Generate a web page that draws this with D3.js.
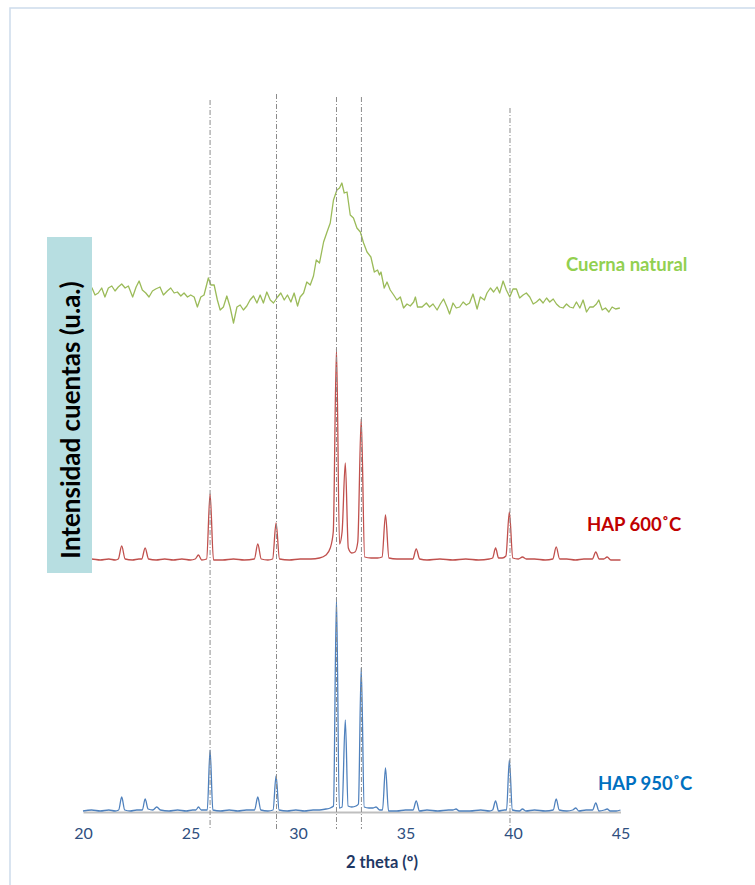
<!DOCTYPE html>
<html>
<head>
<meta charset="utf-8">
<script src="https://cdn.jsdelivr.net/npm/d3@7"></script>
<style>
  html, body { margin: 0; padding: 0; background: #fff; }
  #graph { width: 755px; height: 885px; }
  text { font-family: Lato, "Open Sans", sans-serif; }
</style>
</head>
<body>
<div id="graph"></div>
<script>
'use strict';

// 2 theta (deg), intensity (a.u.)
var hap950 = [[20.0,1],[20.4,2],[20.8,1],[21.2,2],[21.5,1],[21.66,2],[21.8,15],[21.94,2],[22.2,1],[22.5,2],[22.76,2],[22.89,13],[23.03,3],[23.25,2],[23.43,5],[23.6,2],[24.0,1],[24.4,2],[24.8,1],[25.1,2],[25.25,2],[25.37,5],[25.5,2],[25.78,2],[25.91,62],[26.04,2],[26.4,1],[26.8,2],[27.2,1],[27.6,2],[27.98,2],[28.13,15],[28.27,2],[28.6,1],[28.84,2],[28.98,36],[29.12,2],[29.5,1],[29.9,2],[30.3,1],[30.7,2],[31.0,2],[31.3,3],[31.5,4],[31.65,6],[31.79,214],[31.92,4],[32.05,5],[32.2,92],[32.33,6],[32.5,5],[32.7,6],[32.81,8],[32.94,144],[33.08,5],[33.3,4],[33.48,4],[33.63,5],[33.8,2],[33.93,2],[34.07,44],[34.21,1],[34.6,1],[35.0,2],[35.35,2],[35.5,11],[35.65,1],[36.0,2],[36.5,1],[37.0,2],[37.2,2],[37.35,3],[37.5,1],[38.0,1],[38.5,2],[38.9,1],[39.05,2],[39.19,11],[39.33,1],[39.6,2],[39.7,2],[39.83,52],[39.97,2],[40.3,1],[40.44,3],[40.6,1],[41.0,2],[41.5,1],[41.87,2],[42.01,13],[42.15,2],[42.5,1],[42.78,2],[42.92,4],[43.06,1],[43.4,2],[43.7,2],[43.85,9],[44.0,1],[44.25,2],[44.38,3],[44.52,1],[44.8,1],[45.0,2]];

var hap600 = [[20.0,2],[20.4,3],[20.8,2],[21.2,3],[21.5,2],[21.64,3],[21.8,16],[21.96,3],[22.3,2],[22.6,3],[22.73,3],[22.89,14],[23.05,3],[23.4,2],[23.8,3],[24.2,2],[24.6,3],[25.0,2],[25.22,3],[25.37,7],[25.52,2],[25.75,3],[25.91,68],[26.07,2],[26.5,2],[27.0,3],[27.5,2],[27.97,3],[28.13,18],[28.29,3],[28.6,2],[28.82,3],[28.98,39],[29.14,3],[29.6,2],[30.1,3],[30.6,3],[31.0,4],[31.3,7],[31.5,14],[31.64,30],[31.79,213],[31.93,18],[32.05,30],[32.2,99],[32.34,14],[32.5,9],[32.65,10],[32.78,20],[32.94,143],[33.1,5],[33.4,4],[33.7,4],[33.91,5],[34.07,47],[34.23,4],[34.6,3],[35.0,3],[35.34,3],[35.5,13],[35.66,3],[36.0,2],[36.6,3],[37.2,2],[37.8,3],[38.4,2],[38.9,3],[39.05,4],[39.19,14],[39.33,4],[39.5,4],[39.67,6],[39.83,50],[39.99,4],[40.25,3],[40.44,5],[40.62,3],[41.0,3],[41.5,2],[41.85,3],[42.01,15],[42.17,3],[42.5,3],[42.9,2],[43.3,3],[43.69,3],[43.85,10],[44.01,3],[44.22,3],[44.38,5],[44.55,2],[45.0,2]];

var cuerna = [[20.0,38],[20.2,30],[20.42,34],[20.56,27],[20.71,29],[20.87,34],[21.02,25],[21.18,34],[21.34,36],[21.49,31],[21.64,35],[21.80,38],[21.96,34],[22.11,36],[22.31,25],[22.47,35],[22.61,41],[22.76,32],[22.92,29],[23.07,25],[23.23,31],[23.38,33],[23.58,35],[23.74,27],[23.92,31],[24.08,34],[24.24,29],[24.39,30],[24.55,26],[24.70,29],[24.86,25],[25.01,27],[25.17,25],[25.32,15],[25.48,25],[25.63,27],[25.83,44],[25.95,37],[26.10,37],[26.25,22],[26.38,12],[26.53,15],[26.69,26],[26.84,15],[27.00,-1],[27.16,15],[27.31,17],[27.46,12],[27.62,16],[27.77,22],[27.93,26],[28.09,19],[28.24,27],[28.39,19],[28.55,30],[28.71,22],[28.86,19],[29.05,25],[29.20,29],[29.36,22],[29.51,27],[29.67,20],[29.82,29],[29.98,16],[30.10,25],[30.26,29],[30.41,40],[30.57,37],[30.72,46],[30.85,62],[31.00,59],[31.19,80],[31.35,90],[31.50,99],[31.65,122],[31.81,132],[31.93,134],[32.04,139],[32.15,129],[32.28,130],[32.43,107],[32.58,104],[32.74,94],[32.90,90],[33.05,79],[33.21,70],[33.39,65],[33.55,50],[33.70,52],[33.79,47],[33.86,50],[34.01,34],[34.14,40],[34.29,32],[34.45,27],[34.60,22],[34.76,25],[34.91,14],[35.07,18],[35.22,16],[35.38,20],[35.46,25],[35.56,15],[35.77,15],[35.97,19],[36.12,15],[36.28,18],[36.47,12],[36.62,18],[36.77,23],[36.93,15],[37.05,8],[37.21,19],[37.36,14],[37.52,15],[37.68,20],[37.83,17],[37.98,19],[38.14,28],[38.33,13],[38.48,25],[38.67,22],[38.79,29],[38.95,34],[39.10,30],[39.26,35],[39.38,29],[39.54,41],[39.69,32],[39.85,25],[40.00,33],[40.16,33],[40.31,24],[40.47,27],[40.62,29],[40.78,25],[40.94,18],[41.09,20],[41.24,23],[41.40,19],[41.56,24],[41.71,20],[41.87,23],[42.02,18],[42.17,15],[42.33,14],[42.49,18],[42.64,15],[42.80,14],[42.95,20],[43.11,14],[43.26,22],[43.42,10],[43.57,15],[43.73,15],[43.88,18],[43.99,22],[44.15,12],[44.30,14],[44.46,10],[44.61,15],[44.77,13],[44.97,14]];

var seriesNames = ["HAP 950˚C", "HAP 600˚C", "Cuerna natural"];
var seriesOffsets = [0, 250, 490];

// reference peak positions and how high their marker lines go
var refPeaks = [25.91, 29.0, 31.79, 32.95, 39.86];
var refTops = [712, 718, 715, 715, 704];

var xTicks = [20, 25, 30, 35, 40, 45];
var xTitle = "2 theta (º)";
var yTitle = "Intensidad cuentas (u.a.)";

var App = (function() {
  function App(options) {
    this.opt = options;
    this.init();
  }

  App.prototype.init = function() {
    this.el = this.opt.el;
    this.w = 755;
    this.h = 885;
    this.loadGraph();
  };

  App.prototype.loadGraph = function() {
    var svg = d3.select(this.el).append('svg')
      .attr('width', this.w)
      .attr('height', this.h);

    var x = d3.scaleLinear().domain([20, 45]).range([83, 620.5]);
    var y = d3.scaleLinear().domain([0, 720]).range([812, 92]);

    // outer frame
    svg.append('rect')
      .attr('x', 10).attr('y', 8)
      .attr('width', 800).attr('height', 900)
      .attr('fill', 'none')
      .attr('stroke', '#cddbec')
      .attr('stroke-width', 1.5);

    // x axis
    var xAxis = d3.axisBottom(x)
      .tickValues(xTicks)
      .tickSize(0)
      .tickPadding(16)
      .tickFormat(d3.format('d'));

    var gx = svg.append('g')
      .attr('transform', 'translate(0,' + y(0) + ')')
      .call(xAxis);
    gx.select('.domain')
      .attr('stroke', '#bfbfbf')
      .attr('stroke-width', 1.8);
    gx.selectAll('text')
      .attr('fill', '#2f4f7f')
      .style('font-size', '16px')
      .style('font-family', 'Lato, sans-serif');

    svg.append('text')
      .attr('x', 382).attr('y', 868)
      .attr('text-anchor', 'middle')
      .attr('fill', '#1f3864')
      .style('font-size', '16.5px')
      .style('font-weight', 'bold')
      .text(xTitle);

    var colors = ['#4f81bd', '#c0504d', '#9bbb59'];
    var labelColors = ['#0070c0', '#c00000', '#92d050'];
    var data = [hap950, hap600, cuerna];
    var curves = [d3.curveMonotoneX, d3.curveMonotoneX, d3.curveLinear];

    data.forEach(function(series, i) {
      var line = d3.line()
        .x(function(d) { return x(d[0]); })
        .y(function(d) { return y(d[1] + seriesOffsets[i]); })
        .curve(curves[i]);
      svg.append('path')
        .datum(series)
        .attr('d', line)
        .attr('fill', 'none')
        .attr('stroke', colors[i])
        .attr('stroke-width', 1.3)
        .attr('stroke-linejoin', 'round');
    });

    // dash-dot marker lines over the main peaks
    svg.append('g').selectAll('line')
      .data(refPeaks)
      .enter().append('line')
        .attr('x1', function(d) { return x(d); })
        .attr('x2', function(d) { return x(d); })
        .attr('y1', function(d, i) { return y(refTops[i]); })
        .attr('y2', y(-17))
        .attr('stroke', '#8c8c8c')
        .attr('stroke-width', 1)
        .attr('stroke-dasharray', '5,2,1,2');

    // series labels
    var labelPos = [[598, 790], [587, 531], [566, 271]];
    svg.append('g').selectAll('text')
      .data(seriesNames)
      .enter().append('text')
        .attr('x', function(d, i) { return labelPos[i][0]; })
        .attr('y', function(d, i) { return labelPos[i][1]; })
        .attr('fill', function(d, i) { return labelColors[i]; })
        .style('font-size', '18.5px')
        .style('font-weight', 'bold')
        .text(function(d) { return d; });

    // y title box (sits over the start of the curves)
    svg.append('rect')
      .attr('x', 47).attr('y', 237)
      .attr('width', 45).attr('height', 336)
      .attr('fill', '#b7dee1');

    svg.append('text')
      .attr('transform', 'translate(70,420) rotate(-90)')
      .attr('text-anchor', 'middle')
      .attr('dominant-baseline', 'central')
      .attr('fill', '#000')
      .style('font-size', '26px')
      .style('font-weight', 'bold')
      .text(yTitle);
  };

  return App;
})();

var app = new App({ el: '#graph' });
</script>
</body>
</html>
